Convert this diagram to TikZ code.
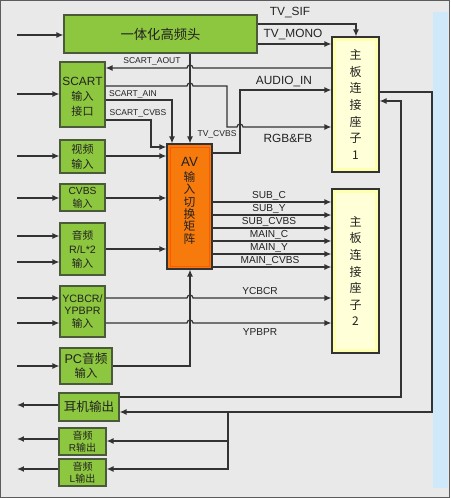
\documentclass[tikz,border=0pt]{standalone}
\usepackage{fontspec}
\setmainfont{Liberation Sans}
\newfontfamily\cjk{Noto Sans CJK SC}
\newcommand{\zh}[1]{{\cjk #1}}
\usetikzlibrary{arrows.meta,fit}
\definecolor{bg}{HTML}{E9E9E9}
\definecolor{gfill}{HTML}{8DC63F}
\definecolor{gdraw}{HTML}{4B5A3A}
\definecolor{ofill}{HTML}{F77A0C}
\definecolor{yfill}{HTML}{FFFFB0}
\definecolor{yin}{HTML}{FFFFD8}
\definecolor{lblue}{HTML}{CFE8FA}
\definecolor{ln}{HTML}{333333}
\definecolor{tx}{HTML}{222222}
\begin{document}
\begin{tikzpicture}[x=0.75pt,y=-0.75pt,
  box/.style={draw=gdraw, line width=0.9pt, inner sep=0pt},
  gbox/.style={box, fill=gfill},
  ybox/.style={box, draw=ln, fill=yfill},
  conn/.style={draw=ln, line width=0.9pt},
  arr/.style={conn, -{Latex[length=5.2pt,width=4.4pt]}},
  lbl/.style={inner sep=0pt, text=tx, align=center},
  big/.style={font=\fontsize{8.9}{11}\selectfont},
  small/.style={font=\fontsize{6.4}{8}\selectfont},
  mid/.style={font=\fontsize{7.6}{9}\selectfont},
]
\useasboundingbox (0,0) rectangle (450,498);
\fill[bg] (0,0) rectangle (450,498);
\fill[lblue] (433,12) rectangle (448,488);
\draw[ln!80, line width=0.8pt] (0.5,0.5) rectangle (449.5,497.5);

% boxes
\node[gbox, fit={(64,15)(257,53)}] (tuner) {};
\node[lbl, font=\cjk\fontsize{10}{12}\selectfont] (tunert) at (tuner.center) {一体化高频头};
\node[ybox, fit={(332,37)(379,172)}] (c1) {};
\fill[yin] (336,41) rectangle (375,168);
\node[lbl, font=\cjk\fontsize{9}{12.4}\selectfont] (c1t) at (c1.center) {主\\板\\连\\接\\座\\子\\1};
\node[ybox, fit={(332,189)(379,353)}] (c2) {};
\fill[yin] (336,193) rectangle (375,349);
\node[lbl, font=\cjk\fontsize{9}{12.4}\selectfont] (c2t) at (c2.center) {主\\板\\连\\接\\座\\子\\2};

\node[gbox, fit={(60,62)(105,127)}] (scart) {};
\node[lbl, font=\fontsize{8.9}{11.2}\selectfont] (scartt) at ([yshift=-2pt]scart.center) {SCART\\\zh{\fontsize{8.3}{11.2}\selectfont 输入}\\\zh{\fontsize{8.3}{11.2}\selectfont 接口}};
\node[gbox, fit={(60,140)(105,173)}] (video) {};
\node[lbl, font=\cjk\fontsize{8.3}{11.2}\selectfont] (videot) at (video.center) {视频\\输入};
\node[gbox, fit={(60,184)(105,211)}] (cvbs) {};
\node[lbl, font=\fontsize{7.7}{9.8}\selectfont] (cvbst) at (cvbs.center) {CVBS\\\zh{\fontsize{7.5}{9.8}\selectfont 输入}};
\node[gbox, fit={(60,223)(105,275)}] (audio) {};
\node[lbl, font=\fontsize{8}{10.5}\selectfont] (audiot) at (audio.center) {\zh{音频}\\R/L*2\\\zh{输入}};
\node[gbox, fit={(60,286)(105,337)}] (ycbcr) {};
\node[lbl, font=\fontsize{8}{9.4}\selectfont] (ycbcrt) at (ycbcr.center) {YCBCR/\\YPBPR\\\zh{输入}};
\node[gbox, fit={(60,348)(112,384)}] (pc) {};
\node[lbl, font=\fontsize{9.5}{10.5}\selectfont] (pct) at (pc.center) {PC\zh{音频}\\\zh{\fontsize{8.5}{10.5}\selectfont 输入}};
\node[gbox, fit={(59,393)(119,421)}] (ear) {};
\node[lbl, font=\cjk\fontsize{9.4}{11}\selectfont] (eart) at (ear.center) {耳机输出};
\node[gbox, fit={(59,428)(106,455)}] (rout) {};
\node[lbl, font=\fontsize{7.5}{9}\selectfont] (routt) at (rout.center) {\zh{音频}\\R\zh{输出}};
\node[gbox, fit={(59,459)(106,486)}] (lout) {};
\node[lbl, font=\fontsize{7.5}{9}\selectfont] (loutt) at (lout.center) {\zh{音频}\\L\zh{输出}};

\node[box, draw=ln, fill=ofill, fit={(167,144)(212,269)}] (av) {};
\draw[orange!70!red, line width=0.6pt] (170,147) rectangle (209,266);
\node[lbl, font=\cjk\fontsize{8.8}{9.3}\selectfont] (avt) at (189.5,201) {{\rmfamily\fontsize{10}{12}\selectfont AV}\\[1.5pt]输\\入\\切\\换\\矩\\阵};

% connectors
\draw[arr] (17,35) -- (tuner.west |- 0,35);
\draw[arr] (tuner.east |- 0,24) -- (356,24) -- (356,0 |- c1.north);
\draw[arr] (tuner.east |- 0,44) -- (c1.west |- 0,44);
\draw[arr] (190,0 |- tuner.south) -- (190,0 |- av.north);
\draw[arr] (c1.west |- 0,68) -- (193,68) arc[start angle=0,end angle=180,radius=2.25pt] -- (scart.east |- 0,68);
\draw[arr] (scart.east |- 0,86) -- (187,86) arc[start angle=180,end angle=0,radius=2.25pt] -- (227,86) -- (227,127) -- (237,127) arc[start angle=180,end angle=0,radius=2.25pt] -- (c1.west |- 0,127);
\draw[arr] (scart.east |- 0,100) -- (172,100) -- (172,0 |- av.north);
\draw[arr] (scart.east |- 0,120) -- (151,120) -- (151,147) -- (av.west |- 0,147);
\draw[arr] (av.east |- 0,153) -- (240,153) -- (240,90) -- (c1.west |- 0,90);

\draw[arr] (17,94) -- (scart.west |- 0,94);
\draw[arr] (17,156) -- (video.west |- 0,156);
\draw[arr] (video.east |- 0,156) -- (av.west |- 0,156);
\draw[arr] (17,198) -- (cvbs.west |- 0,198);
\draw[arr] (cvbs.east |- 0,198) -- (av.west |- 0,198);
\draw[arr] (17,236) -- (audio.west |- 0,236);
\draw[arr] (17,262) -- (audio.west |- 0,262);
\draw[arr] (audio.east |- 0,249) -- (av.west |- 0,249);

\foreach \yy in {202,215,228,241,254,267}
  \draw[arr] (av.east |- 0,\yy) -- (c2.west |- 0,\yy);

\draw[arr] (17,298) -- (ycbcr.west |- 0,298);
\draw[arr] (17,323) -- (ycbcr.west |- 0,323);
\draw[arr] (ycbcr.east |- 0,298) -- (187,298) arc[start angle=180,end angle=0,radius=2.25pt] -- (c2.west |- 0,298);
\draw[arr] (ycbcr.east |- 0,323) -- (187,323) arc[start angle=180,end angle=0,radius=2.25pt] -- (c2.west |- 0,323);
\draw[arr] (17,366) -- (pc.west |- 0,366);
\draw[arr] (pc.east |- 0,366) -- (190,366) -- (190,0 |- av.south);

\draw[arr] (ear.west |- 0,405) -- (17,405);
\draw[arr] (rout.west |- 0,439) -- (17,439);
\draw[arr] (lout.west |- 0,469) -- (17,469);
\draw[arr] (ear.east |- 0,397) -- (401,397) -- (401,101) -- (c1.east |- 0,101);
\draw[arr] (c1.east |- 0,92) -- (432,92) -- (432,412) -- (ear.east |- 0,412);
\coordinate (br) at (228,412);
\coordinate (br2) at (228,441);
\draw[arr] (br) -- (br2) -- (rout.east |- br2);
\draw[arr] (br2) -- (228,469) -- (lout.east |- 0,469);

% labels
\node[lbl, big] (l1) at (290,13) {TV\_SIF};
\node[lbl, big] (l2) at (293,35) {TV\_MONO};
\node[lbl, small] (l3) at (152,61) {SCART\_AOUT};
\node[lbl, small] (l4) at (133,94) {SCART\_AIN};
\node[lbl, small] (l5) at (138,113) {SCART\_CVBS};
\node[lbl, small] (l6) at (217,134) {TV\_CVBS};
\node[lbl, big] (l7) at (284,82) {AUDIO\_IN};
\node[lbl, big] (l8) at (288,138) {RGB\&FB};
\node[lbl, mid, anchor=south] (s1) at (269,200.5) {SUB\_C};
\node[lbl, mid, anchor=south] (s2) at (269,213.5) {SUB\_Y};
\node[lbl, mid, anchor=south] (s3) at (269,226.5) {SUB\_CVBS};
\node[lbl, mid, anchor=south] (s4) at (269,239.5) {MAIN\_C};
\node[lbl, mid, anchor=south] (s5) at (269,252.5) {MAIN\_Y};
\node[lbl, mid, anchor=south] (s6) at (270,265.5) {MAIN\_CVBS};
\node[lbl, mid] (l9) at (260,291) {YCBCR};
\node[lbl, mid] (l10) at (260,332) {YPBPR};
\end{tikzpicture}
\end{document}
